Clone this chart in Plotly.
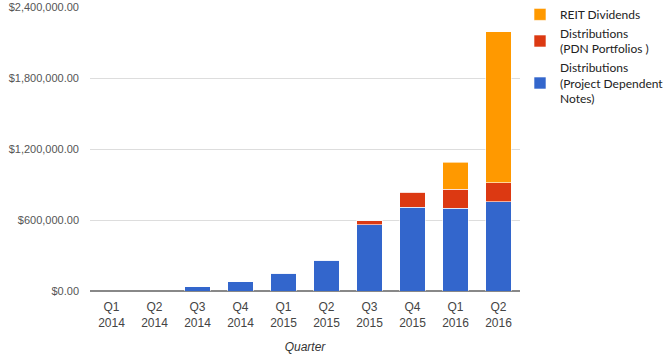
import plotly.graph_objects as go

quarters = ["Q1<br>2014", "Q2<br>2014", "Q3<br>2014", "Q4<br>2014", "Q1<br>2015",
            "Q2<br>2015", "Q3<br>2015", "Q4<br>2015", "Q1<br>2016", "Q2<br>2016"]
project_dependent = [0, 0, 36000, 79000, 152000, 262000, 558000, 707000, 699000, 755000]
pdn_portfolios = [0, 0, 0, 0, 0, 0, 36000, 127000, 163000, 158000]
reit_dividends = [0, 0, 0, 0, 0, 0, 0, 0, 226000, 1276000]

tick_vals = [0, 600000, 1200000, 1800000, 2400000]
tick_text = ["$0.00", "$600,000.00", "$1,200,000.00", "$1,800,000.00", "$2,400,000.00"]

edge = dict(color="rgba(255,255,255,0.6)", width=1)
fig = go.Figure()
fig.add_bar(x=quarters, y=project_dependent, name="Distributions<br>(Project Dependent<br>Notes)",
            marker=dict(color="#3366cc", line=edge))
fig.add_bar(x=quarters, y=pdn_portfolios, name="Distributions<br>(PDN Portfolios )",
            marker=dict(color="#dc3912", line=edge))
fig.add_bar(x=quarters, y=reit_dividends, name="REIT Dividends",
            marker=dict(color="#ff9900", line=edge))

fig.update_layout(
    width=666, height=360,
    barmode="stack", bargap=0.4,
    paper_bgcolor="white", plot_bgcolor="white",
    margin=dict(l=90, r=146, t=7, b=69, autoexpand=False),
    font=dict(family="Liberation Sans, Arial, sans-serif", size=12, color="#444"),
    legend=dict(traceorder="reversed", x=1.0, xanchor="left", y=1.025, yanchor="top",
                font=dict(family="Lato, sans-serif", size=12, color="#222"),
                tracegroupgap=2),
    xaxis=dict(showgrid=False, showline=False, ticks="", automargin=False,
               ticklabelstandoff=7,
               title=dict(text="<i>Quarter</i>", standoff=14, font=dict(size=12, color="#333"))),
    yaxis=dict(range=[0, 2400000], tickvals=tick_vals, ticktext=tick_text, automargin=False,
               tickfont=dict(size=11, color="#555"), ticklabelstandoff=10,
               showgrid=True, gridcolor="#dddddd", zeroline=True, zerolinecolor="#888",
               zerolinewidth=1.5),
    showlegend=True,
)

fig.write_html("out.html", config={"displayModeBar": False},
               post_script="document.body.style.margin='0';")
